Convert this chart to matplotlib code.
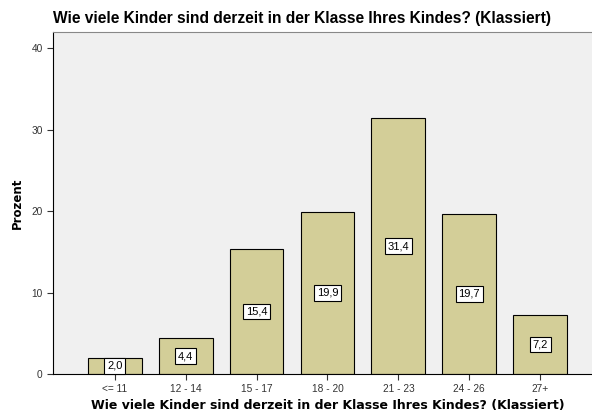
import matplotlib
matplotlib.use("Agg")
import matplotlib.pyplot as plt

categories = ["<= 11", "12 - 14", "15 - 17", "18 - 20", "21 - 23", "24 - 26", "27+"]
values = [2.0, 4.4, 15.4, 19.9, 31.4, 19.7, 7.2]
yticks = [0, 10, 20, 30, 40]
title = "Wie viele Kinder sind derzeit in der Klasse Ihres Kindes? (Klassiert)"

plt.rcParams['font.family'] = ['Liberation Sans', 'DejaVu Sans']
fig = plt.figure(figsize=(5.92, 4.12), dpi=100)
ax = fig.add_axes([53/592, 1-374/412, 1-53/592, (374-32)/412])
ax.set_facecolor("#F0F0F0")
x = list(range(len(categories)))
ax.bar(x, values, width=0.76, color="#D3CE98", edgecolor="black", linewidth=0.8, zorder=2)
for xi, v in zip(x, values):
    ax.text(xi, v/2, f"{v:.1f}".replace(".", ","), ha="center", va="center", fontsize=8,
            bbox=dict(boxstyle="square,pad=0.25", fc="white", ec="black", lw=0.8), zorder=3)
ax.set_xlim(-0.87, 6.73)
ax.set_ylim(0, 42)
ax.set_xticks(x)
ax.set_xticklabels(categories, fontsize=7.3, color="#333333")
ax.set_yticks(yticks)
ax.set_yticklabels([str(t) for t in yticks], fontsize=7.3, color="#333333")
ax.tick_params(axis="both", length=4, width=0.8, color="#333333")
for s in ["left", "bottom"]:
    ax.spines[s].set_color("black")
    ax.spines[s].set_linewidth(0.8)
ax.spines["top"].set_color("#888888")
ax.spines["right"].set_visible(False)
ax.set_xlabel(title, fontsize=9, fontweight="bold", family=["DejaVu Sans"])
ax.xaxis.set_label_coords(0.51, -0.073)
ax.set_ylabel("Prozent", fontsize=8.5, fontweight="bold", family=["DejaVu Sans"], labelpad=5)
fig.text(53/592, 1-18/412, title, fontsize=11.2, fontweight="bold", ha="left", va="center")
fig.savefig("out.png", dpi=100)
